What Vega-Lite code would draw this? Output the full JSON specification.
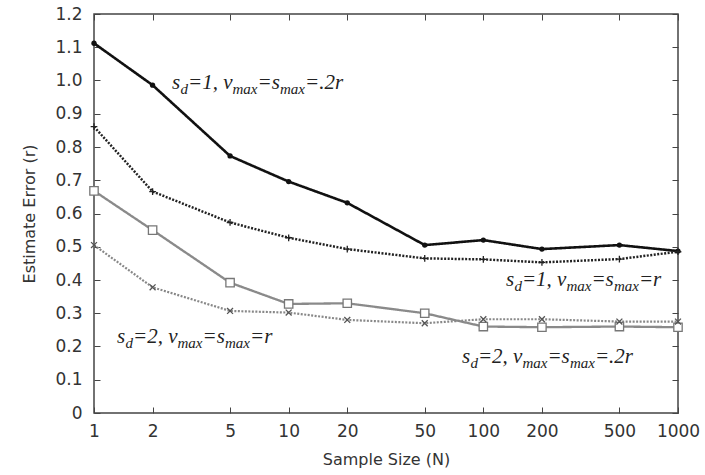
{
  "$schema": "https://vega.github.io/schema/vega-lite/v6.json",
  "width": 584,
  "height": 399,
  "autosize": {"type": "none"},
  "padding": {"left": 94, "top": 14, "right": 27, "bottom": 62},
  "background": "white",
  "config": {
    "view": {"stroke": "#444", "strokeWidth": 1.5},
    "axis": {
      "grid": false, "domain": false, "tickSize": -6, "tickColor": "#444", "tickWidth": 1,
      "labelFont": "DejaVu Sans", "labelFontSize": 17, "labelColor": "#333",
      "titleFont": "DejaVu Sans", "titleFontSize": 16, "titleFontWeight": "normal", "titleColor": "#333",
      "labelFlush": false, "labelOverlap": false
    }
  },
  "datasets": {
    "series": [
      {"N": 1, "err": 1.112, "s": "a"}, {"N": 2, "err": 0.986, "s": "a"}, {"N": 5, "err": 0.773, "s": "a"}, {"N": 10, "err": 0.696, "s": "a"}, {"N": 20, "err": 0.632, "s": "a"}, {"N": 50, "err": 0.505, "s": "a"}, {"N": 100, "err": 0.52, "s": "a"}, {"N": 200, "err": 0.493, "s": "a"}, {"N": 500, "err": 0.505, "s": "a"}, {"N": 1000, "err": 0.487, "s": "a"},
      {"N": 1, "err": 0.861, "s": "b"}, {"N": 2, "err": 0.666, "s": "b"}, {"N": 5, "err": 0.573, "s": "b"}, {"N": 10, "err": 0.527, "s": "b"}, {"N": 20, "err": 0.493, "s": "b"}, {"N": 50, "err": 0.465, "s": "b"}, {"N": 100, "err": 0.462, "s": "b"}, {"N": 200, "err": 0.453, "s": "b"}, {"N": 500, "err": 0.463, "s": "b"}, {"N": 1000, "err": 0.485, "s": "b"},
      {"N": 1, "err": 0.668, "s": "c"}, {"N": 2, "err": 0.55, "s": "c"}, {"N": 5, "err": 0.392, "s": "c"}, {"N": 10, "err": 0.328, "s": "c"}, {"N": 20, "err": 0.33, "s": "c"}, {"N": 50, "err": 0.3, "s": "c"}, {"N": 100, "err": 0.26, "s": "c"}, {"N": 200, "err": 0.258, "s": "c"}, {"N": 500, "err": 0.26, "s": "c"}, {"N": 1000, "err": 0.258, "s": "c"},
      {"N": 1, "err": 0.505, "s": "d"}, {"N": 2, "err": 0.378, "s": "d"}, {"N": 5, "err": 0.307, "s": "d"}, {"N": 10, "err": 0.302, "s": "d"}, {"N": 20, "err": 0.28, "s": "d"}, {"N": 50, "err": 0.27, "s": "d"}, {"N": 100, "err": 0.282, "s": "d"}, {"N": 200, "err": 0.282, "s": "d"}, {"N": 500, "err": 0.275, "s": "d"}, {"N": 1000, "err": 0.275, "s": "d"}
    ],
    "ann": [
      {"N": 2.515, "err": 0.975, "s": "s", "d": "d", "mid": "=1, v", "max": "max", "eqs": "=s", "tail": "=.2r"},
      {"N": 130.6, "err": 0.382, "s": "s", "d": "d", "mid": "=1, v", "max": "max", "eqs": "=s", "tail": "=r"},
      {"N": 1.313, "err": 0.2105, "s": "s", "d": "d", "mid": "=2, v", "max": "max", "eqs": "=s", "tail": "=r"},
      {"N": 77.6, "err": 0.15, "s": "s", "d": "d", "mid": "=2, v", "max": "max", "eqs": "=s", "tail": "=.2r"}
    ]
  },
  "resolve": {"axis": {"x": "independent", "y": "independent"}},
  "layer": [
    {
      "data": {"name": "series"},
      "mark": {"type": "line"},
      "encoding": {
        "x": {"field": "N", "type": "quantitative", "scale": {"type": "log", "domain": [1, 1000], "nice": false},
              "axis": {"orient": "bottom", "values": [1, 2, 5, 10, 20, 50, 100, 200, 500, 1000], "format": "d", "title": "Sample Size (N)", "labelPadding": 16, "titlePadding": 12}},
        "y": {"field": "err", "type": "quantitative", "scale": {"domain": [0, 1.2], "nice": false, "zero": true},
              "axis": {"orient": "left", "values": [0, 0.1, 0.2, 0.3, 0.4, 0.5, 0.6, 0.7, 0.8, 0.9, 1.0, 1.1, 1.2], "labelExpr": "datum.value === 0 ? '0' : format(datum.value, '.1f')", "title": "Estimate Error (r)", "labelPadding": 18, "titlePadding": 17}},
        "color": {"field": "s", "type": "nominal", "scale": {"domain": ["a", "b", "c", "d"], "range": ["#111111", "#222222", "#8a8a8a", "#888888"]}, "legend": null},
        "strokeDash": {"field": "s", "type": "nominal", "scale": {"domain": ["a", "b", "c", "d"], "range": [[1, 0], [2, 1.5], [1, 0], [2, 1.5]]}, "legend": null},
        "strokeWidth": {"field": "s", "type": "nominal", "scale": {"domain": ["a", "b", "c", "d"], "range": [2.6, 2.2, 2, 2.2]}, "legend": null}
      }
    },
    {
      "data": {"name": "series"},
      "transform": [{"filter": "datum.s === 'a'"}],
      "mark": {"type": "point", "shape": "circle", "filled": true, "size": 28, "color": "#111", "opacity": 1},
      "encoding": {
        "x": {"field": "N", "type": "quantitative", "scale": {"type": "log", "domain": [1, 1000], "nice": false}, "axis": null},
        "y": {"field": "err", "type": "quantitative", "scale": {"domain": [0, 1.2], "nice": false}, "axis": null}
      }
    },
    {
      "data": {"name": "series"},
      "transform": [{"filter": "datum.s === 'b'"}],
      "mark": {"type": "point", "shape": "M-1,0L1,0M0,-1L0,1", "filled": false, "size": 45, "stroke": "#222", "strokeWidth": 1.3, "opacity": 1},
      "encoding": {
        "x": {"field": "N", "type": "quantitative", "scale": {"type": "log", "domain": [1, 1000], "nice": false}, "axis": null},
        "y": {"field": "err", "type": "quantitative", "scale": {"domain": [0, 1.2], "nice": false}, "axis": null}
      }
    },
    {
      "data": {"name": "series"},
      "transform": [{"filter": "datum.s === 'c'"}],
      "mark": {"type": "point", "shape": "square", "filled": true, "fill": "white", "size": 70, "stroke": "#777", "strokeWidth": 1.3, "opacity": 1},
      "encoding": {
        "x": {"field": "N", "type": "quantitative", "scale": {"type": "log", "domain": [1, 1000], "nice": false}, "axis": null},
        "y": {"field": "err", "type": "quantitative", "scale": {"domain": [0, 1.2], "nice": false}, "axis": null}
      }
    },
    {
      "data": {"name": "series"},
      "transform": [{"filter": "datum.s === 'd'"}],
      "mark": {"type": "point", "shape": "M-1,-1L1,1M-1,1L1,-1", "filled": false, "size": 35, "stroke": "#555", "strokeWidth": 1.3, "opacity": 1},
      "encoding": {
        "x": {"field": "N", "type": "quantitative", "scale": {"type": "log", "domain": [1, 1000], "nice": false}, "axis": null},
        "y": {"field": "err", "type": "quantitative", "scale": {"domain": [0, 1.2], "nice": false}, "axis": null}
      }
    },
    {
      "data": {"name": "series"},
      "mark": {"type": "point", "opacity": 0},
      "encoding": {
        "x": {"field": "N", "type": "quantitative", "scale": {"type": "log", "domain": [1, 1000], "nice": false},
              "axis": {"orient": "top", "values": [1, 2, 5, 10, 20, 50, 100, 200, 500, 1000], "labels": false, "title": null}},
        "y": {"field": "err", "type": "quantitative", "scale": {"domain": [0, 1.2], "nice": false},
              "axis": {"orient": "right", "values": [0, 0.1, 0.2, 0.3, 0.4, 0.5, 0.6, 0.7, 0.8, 0.9, 1.0, 1.1, 1.2], "labels": false, "title": null}}
      }
    },
    {
      "data": {"name": "ann"},
      "mark": {"type": "text", "align": "left", "baseline": "alphabetic", "font": "Liberation Serif", "fontStyle": "italic", "fontSize": 21, "color": "#222", "dx": 0},
      "encoding": {
        "x": {"field": "N", "type": "quantitative", "scale": {"type": "log", "domain": [1, 1000], "nice": false}, "axis": null},
        "y": {"field": "err", "type": "quantitative", "scale": {"domain": [0, 1.2], "nice": false}, "axis": null},
        "text": {"field": "s"}
      }
    },
    {
      "data": {"name": "ann"},
      "mark": {"type": "text", "align": "left", "baseline": "alphabetic", "font": "Liberation Serif", "fontStyle": "italic", "fontSize": 15, "color": "#222", "dx": 8.5, "dy": 5},
      "encoding": {
        "x": {"field": "N", "type": "quantitative", "scale": {"type": "log", "domain": [1, 1000], "nice": false}, "axis": null},
        "y": {"field": "err", "type": "quantitative", "scale": {"domain": [0, 1.2], "nice": false}, "axis": null},
        "text": {"field": "d"}
      }
    },
    {
      "data": {"name": "ann"},
      "mark": {"type": "text", "align": "left", "baseline": "alphabetic", "font": "Liberation Serif", "fontStyle": "italic", "fontSize": 21, "color": "#222", "dx": 16},
      "encoding": {
        "x": {"field": "N", "type": "quantitative", "scale": {"type": "log", "domain": [1, 1000], "nice": false}, "axis": null},
        "y": {"field": "err", "type": "quantitative", "scale": {"domain": [0, 1.2], "nice": false}, "axis": null},
        "text": {"field": "mid"}
      }
    },
    {
      "data": {"name": "ann"},
      "mark": {"type": "text", "align": "left", "baseline": "alphabetic", "font": "Liberation Serif", "fontStyle": "italic", "fontSize": 15, "color": "#222", "dx": 60.5, "dy": 5},
      "encoding": {
        "x": {"field": "N", "type": "quantitative", "scale": {"type": "log", "domain": [1, 1000], "nice": false}, "axis": null},
        "y": {"field": "err", "type": "quantitative", "scale": {"domain": [0, 1.2], "nice": false}, "axis": null},
        "text": {"field": "max"}
      }
    },
    {
      "data": {"name": "ann"},
      "mark": {"type": "text", "align": "left", "baseline": "alphabetic", "font": "Liberation Serif", "fontStyle": "italic", "fontSize": 21, "color": "#222", "dx": 85.5},
      "encoding": {
        "x": {"field": "N", "type": "quantitative", "scale": {"type": "log", "domain": [1, 1000], "nice": false}, "axis": null},
        "y": {"field": "err", "type": "quantitative", "scale": {"domain": [0, 1.2], "nice": false}, "axis": null},
        "text": {"field": "eqs"}
      }
    },
    {
      "data": {"name": "ann"},
      "mark": {"type": "text", "align": "left", "baseline": "alphabetic", "font": "Liberation Serif", "fontStyle": "italic", "fontSize": 15, "color": "#222", "dx": 108, "dy": 5},
      "encoding": {
        "x": {"field": "N", "type": "quantitative", "scale": {"type": "log", "domain": [1, 1000], "nice": false}, "axis": null},
        "y": {"field": "err", "type": "quantitative", "scale": {"domain": [0, 1.2], "nice": false}, "axis": null},
        "text": {"field": "max"}
      }
    },
    {
      "data": {"name": "ann"},
      "mark": {"type": "text", "align": "left", "baseline": "alphabetic", "font": "Liberation Serif", "fontStyle": "italic", "fontSize": 21, "color": "#222", "dx": 133},
      "encoding": {
        "x": {"field": "N", "type": "quantitative", "scale": {"type": "log", "domain": [1, 1000], "nice": false}, "axis": null},
        "y": {"field": "err", "type": "quantitative", "scale": {"domain": [0, 1.2], "nice": false}, "axis": null},
        "text": {"field": "tail"}
      }
    }
  ]
}
